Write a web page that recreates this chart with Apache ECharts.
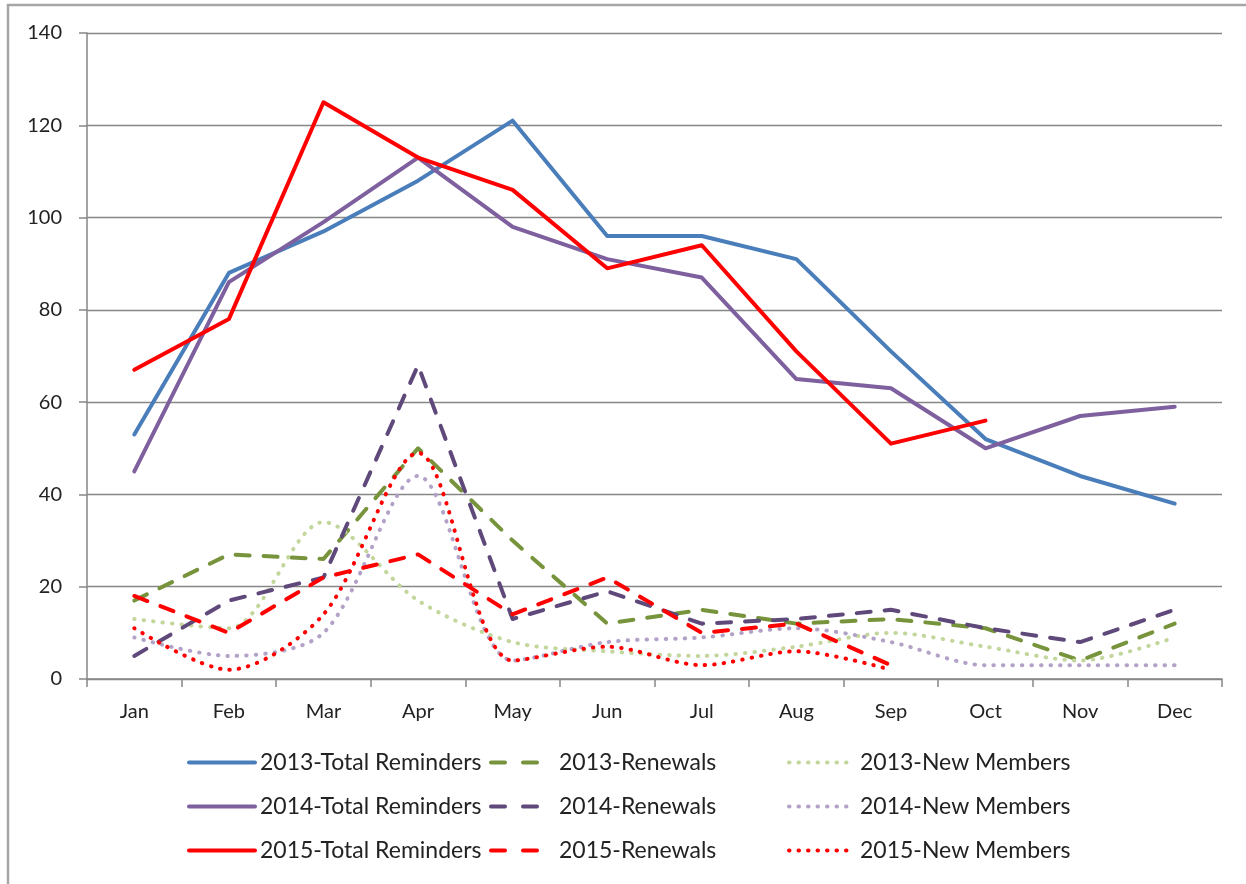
<!DOCTYPE html>
<html>
<head>
<meta charset="utf-8">
<script src="https://cdn.jsdelivr.net/npm/echarts@6/dist/echarts.min.js"></script>
<style>
  html, body { margin: 0; padding: 0; background: #fff; }
  #chart { width: 1246px; height: 884px; }
</style>
</head>
<body>
<div id="chart"></div>
<script>
const months = ['Jan', 'Feb', 'Mar', 'Apr', 'May', 'Jun', 'Jul', 'Aug', 'Sep', 'Oct', 'Nov', 'Dec']

// values
const total2013 = [53, 88, 97, 108, 121, 96, 96, 91, 71, 52, 44, 38]
const renew2013 = [17, 27, 26, 50, 30, 12, 15, 12, 13, 11, 4, 12]
const newMem2013 = [13, 11, 34, 17, 8, 6, 5, 7, 10, 7, 4, 9]
const total2014 = [45, 86, 99, 113, 98, 91, 87, 65, 63, 50, 57, 59]
const renew2014 = [5, 17, 22, 68, 13, 19, 12, 13, 15, 11, 8, 15]
const newMem2014 = [9, 5, 10, 44, 4, 8, 9, 11, 8, 3, 3, 3]
const total2015 = [67, 78, 125, 113, 106, 89, 94, 71, 51, 56]
const renew2015 = [18, 10, 22, 27, 14, 22, 10, 12, 3]
const newMem2015 = [11, 2, 14, 49, 4, 7, 3, 6, 2]

const yTicks = { min: 0, max: 140, step: 20 }

const font = 'Lato, "Noto Sans", sans-serif'
const axisGray = '#868686'

const solid = (color) => ({ color: color, width: 4, type: 'solid', cap: 'round', join: 'round' })
const dashed = (color) => ({ color: color, width: 4, type: [14, 14], cap: 'round', join: 'round' })
const dotted = (color) => ({ color: color, width: 4, type: [0.5, 9], cap: 'round', join: 'round' })

const mk = (name, data, lineStyle, smooth) => ({
  name: name,
  type: 'line',
  data: data,
  symbol: 'none',
  smooth: smooth || false,
  itemStyle: { color: lineStyle.color },
  lineStyle: lineStyle,
  emphasis: { disabled: true },
})

const series = [
  mk('2013-Total Reminders', total2013, solid('#4A7EBB')),
  mk('2013-Renewals', renew2013, dashed('#77933C')),
  mk('2013-New Members', newMem2013, dotted('#C3D69B'), 0.3),
  mk('2014-Total Reminders', total2014, solid('#7E609F')),
  mk('2014-Renewals', renew2014, dashed('#5F497A')),
  mk('2014-New Members', newMem2014, dotted('#B3A2C7'), 0.3),
  mk('2015-Total Reminders', total2015, solid('#FF0000')),
  mk('2015-Renewals', renew2015, dashed('#FF0000')),
  mk('2015-New Members', newMem2015, dotted('#FF0000'), 0.3),
]

// legend: one vertical legend per column
const legendCol = (left, width, idxs, iconDash) => ({
  orient: 'vertical',
  left: left,
  top: 751,
  padding: 0,
  itemGap: 21,
  itemWidth: width,
  itemHeight: 24,
  selectedMode: false,
  itemStyle: { opacity: 0, borderWidth: 0 },
  textStyle: { fontFamily: font, fontSize: 23, color: '#222' },
  data: idxs.map((i) => {
    const item = { name: series[i].name }
    item.lineStyle = { width: 4 }
    if (iconDash) item.lineStyle.type = iconDash
    return item
  }),
})

const chart = echarts.init(document.getElementById('chart'))
chart.setOption({
  animation: false,
  graphic: [
    {
      type: 'rect',
      shape: { x: 8, y: 5, width: 1400, height: 1000 },
      style: { fill: 'none', stroke: '#a6a6a6', lineWidth: 2.5 },
      silent: true,
    },
  ],
  grid: { left: 87, right: 24, top: 33, bottom: 205 },
  legend: [
    legendCol(187, 66, [0, 3, 6]),
    legendCol(489, 63, [1, 4, 7], [14, 18, 14, 300]),
    legendCol(787, 66, [2, 5, 8]),
  ],
  xAxis: {
    type: 'category',
    data: months,
    boundaryGap: true,
    axisLine: { show: true, lineStyle: { color: axisGray, width: 1.5 } },
    axisTick: { show: true, length: 8, alignWithLabel: false, lineStyle: { color: axisGray, width: 1.5 } },
    axisLabel: { fontFamily: font, fontSize: 20, color: '#222', margin: 23 },
    splitLine: { show: false },
  },
  yAxis: {
    type: 'value',
    min: yTicks.min,
    max: yTicks.max,
    interval: yTicks.step,
    axisLine: { show: true, lineStyle: { color: axisGray, width: 1.5 } },
    axisTick: { show: true, length: 8, lineStyle: { color: axisGray, width: 1.5 } },
    axisLabel: { fontFamily: font, fontSize: 20, color: '#222', margin: 25 },
    splitLine: { show: true, lineStyle: { color: axisGray, width: 1.3 } },
  },
  series: series,
})
</script>
</body>
</html>
